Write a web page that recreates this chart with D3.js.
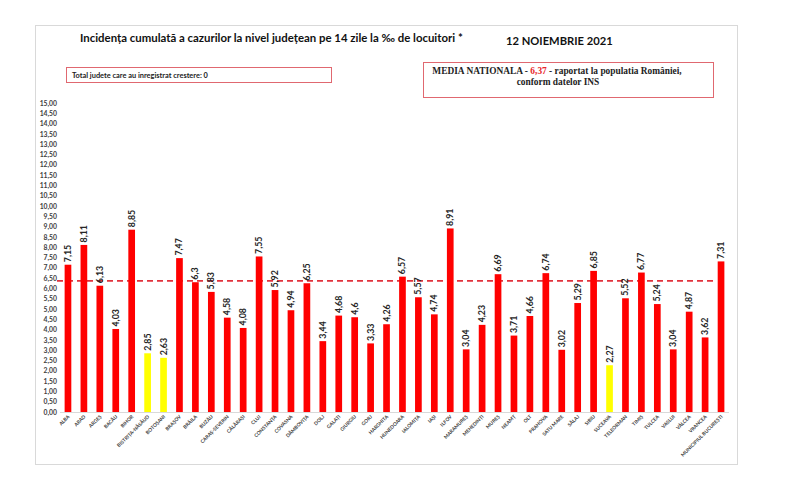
<!DOCTYPE html>
<html>
<head>
<meta charset="utf-8">
<script src="https://cdn.jsdelivr.net/npm/d3@7"></script>
<style>
  body { margin: 0; background: #fff; }
  svg { display: block; font-family: Lato, "Open Sans", sans-serif; }
</style>
</head>
<body>
<svg id="chart" width="800" height="483"></svg>
<script>
// judete, in the order of the chart
var counties = ['ALBA', 'ARAD', 'ARGEȘ', 'BACĂU', 'BIHOR', 'BISTRIȚA-NĂSĂUD', 'BOTOȘANI',
  'BRAȘOV', 'BRĂILA', 'BUZĂU', 'CARAȘ-SEVERIN', 'CĂLĂRAȘI', 'CLUJ', 'CONSTANȚA', 'COVASNA',
  'DÂMBOVIȚA', 'DOLJ', 'GALAȚI', 'GIURGIU', 'GORJ', 'HARGHITA', 'HUNEDOARA', 'IALOMIȚA',
  'IAȘI', 'ILFOV', 'MARAMUREȘ', 'MEHEDINȚI', 'MUREȘ', 'NEAMȚ', 'OLT', 'PRAHOVA', 'SATU MARE',
  'SĂLAJ', 'SIBIU', 'SUCEAVA', 'TELEORMAN', 'TIMIȘ', 'TULCEA', 'VASLUI', 'VÂLCEA', 'VRANCEA',
  'MUNICIPIUL BUCUREȘTI'];

// incidence per 1000 inhabitants, 14 days
var incidence = [7.15, 8.11, 6.13, 4.03, 8.85, 2.85, 2.63,
  7.47, 6.3, 5.83, 4.58, 4.08, 7.55, 5.92, 4.94,
  6.25, 3.44, 4.68, 4.6, 3.33, 4.26, 6.57, 5.57,
  4.74, 8.91, 3.04, 4.23, 6.69, 3.71, 4.66, 6.74, 3.02,
  5.29, 6.85, 2.27, 5.52, 6.77, 5.24, 3.04, 4.87, 3.62,
  7.31];

var nationalAverage = 6.37;
var yTicks = d3.range(0, 15.001, 0.5);

var svg = d3.select('#chart');

function comma(v) {
  return String(v).replace('.', ',');
}

// outer frame
svg.append('rect')
  .attr('x', 35.5).attr('y', 25.5)
  .attr('width', 702).attr('height', 439)
  .attr('fill', 'none')
  .attr('stroke', '#d9d9d9');

var x = d3.scaleBand()
  .domain(counties)
  .range([60, 729])
  .paddingInner(0.58)
  .paddingOuter(0.29);

var y = d3.scaleLinear()
  .domain([0, 15])
  .range([412, 103]);

// y axis labels, no line
var yAxis = svg.append('g')
  .attr('transform', 'translate(57,0)')
  .call(d3.axisLeft(y)
    .tickValues(yTicks)
    .tickSize(0)
    .tickPadding(0)
    .tickFormat(function(d) { return d3.format('.2f')(d).replace('.', ','); }));
yAxis.select('.domain').remove();
yAxis.selectAll('text')
  .attr('font-size', 6.8)
  .attr('font-weight', 'bold')
  .attr('fill', '#404040')
  .attr('font-family', 'Lato, sans-serif');

// baseline
svg.append('line')
  .attr('x1', 60).attr('x2', 729)
  .attr('y1', y(0) + 0.5).attr('y2', y(0) + 0.5)
  .attr('stroke', '#d9d9d9');

// national average, dashed
svg.append('line')
  .attr('x1', 57).attr('x2', 716)
  .attr('y1', y(nationalAverage)).attr('y2', y(nationalAverage))
  .attr('stroke', '#e2323c')
  .attr('stroke-width', 1.8)
  .attr('stroke-dasharray', '6,4');

var bars = svg.append('g')
  .selectAll('rect')
  .data(incidence)
  .enter()
  .append('rect')
  .attr('x', function(d, i) { return x(counties[i]); })
  .attr('y', function(d) { return y(d); })
  .attr('width', x.bandwidth())
  .attr('height', function(d) { return y(0) - y(d); })
  .attr('fill', function(d) { return d < 3 ? '#ffff00' : '#ff0000'; });

// value labels, rotated
svg.append('g')
  .selectAll('text')
  .data(incidence)
  .enter()
  .append('text')
  .attr('transform', function(d, i) {
    var cx = x(counties[i]) + x.bandwidth() / 2 + 3;
    return 'translate(' + cx + ',' + (y(d) - 2.5) + ') rotate(-90)';
  })
  .attr('font-size', 8.8)
  .attr('font-weight', 'bold')
  .attr('fill', '#262626')
  .text(function(d) { return comma(d); });

// category labels at 45 degrees
svg.append('g')
  .selectAll('text')
  .data(counties)
  .enter()
  .append('text')
  .attr('transform', function(d) {
    var cx = x(d) + x.bandwidth() / 2 + 2;
    return 'translate(' + cx + ',417) rotate(-45)';
  })
  .attr('text-anchor', 'end')
  .attr('font-size', 4.9)
  .attr('font-weight', 'bold')
  .attr('fill', '#404040')
  .text(function(d) { return d; });

// title and date
svg.append('text')
  .attr('x', 80).attr('y', 42)
  .attr('font-size', 11.4)
  .attr('font-weight', 'bold')
  .attr('fill', '#111')
  .text('Incidența cumulată a cazurilor la nivel județean pe 14 zile la ‰ de locuitori *');

svg.append('text')
  .attr('x', 506).attr('y', 45)
  .attr('font-size', 11.2)
  .attr('font-weight', 'bold')
  .attr('fill', '#111')
  .text('12 NOIEMBRIE 2021');

// left info box
svg.append('rect')
  .attr('x', 66.5).attr('y', 67.5)
  .attr('width', 265).attr('height', 15)
  .attr('fill', '#fff')
  .attr('stroke', '#e06870');
svg.append('text')
  .attr('x', 72).attr('y', 77.5)
  .attr('font-size', 7.4)
  .attr('font-weight', 'bold')
  .attr('fill', '#222')
  .text('Total judete care au inregistrat crestere: 0');

// right info box
svg.append('rect')
  .attr('x', 423.5).attr('y', 62.5)
  .attr('width', 290).attr('height', 35)
  .attr('fill', '#fff')
  .attr('stroke', '#e06870');
var media = svg.append('text')
  .attr('x', 557).attr('y', 74)
  .attr('text-anchor', 'middle')
  .attr('font-family', '"Liberation Serif", serif')
  .attr('font-size', 9.4)
  .attr('font-weight', 'bold')
  .attr('fill', '#222');
media.append('tspan').text('MEDIA NATIONALA - ');
media.append('tspan').attr('fill', '#e8262b').text(comma(nationalAverage));
media.append('tspan').text(' -  raportat la populatia României,');
svg.append('text')
  .attr('x', 558).attr('y', 85)
  .attr('text-anchor', 'middle')
  .attr('font-family', '"Liberation Serif", serif')
  .attr('font-size', 9.4)
  .attr('font-weight', 'bold')
  .attr('fill', '#222')
  .text('conform datelor INS');
</script>
</body>
</html>
